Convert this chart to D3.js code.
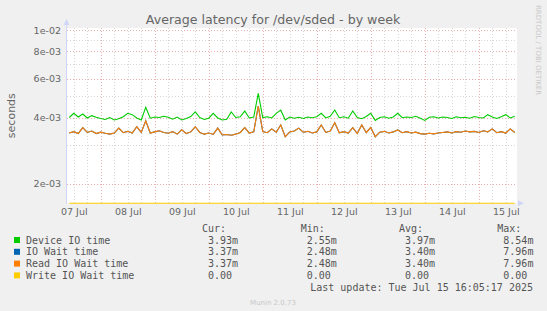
<!DOCTYPE html>
<html>
<head>
<meta charset="utf-8">
<script src="https://cdn.jsdelivr.net/npm/d3@7"></script>
<style>
  html, body { margin: 0; padding: 0; background: #f0f0f0; }
  svg { display: block; }
  text { font-family: "DejaVu Sans", sans-serif; fill: #666; }
  .mono { font-family: "DejaVu Sans Mono", monospace; font-size: 10px; fill: #555; }
</style>
</head>
<body>
<div id="chart"></div>
<script>
/** Data (ms, one point every 2 hours from 07 Jul 09:00) */
const deviceIO = [
  4.00, 4.18, 4.02, 4.15, 3.98, 4.08, 4.01, 3.96, 3.92, 4.00,
  3.90, 3.95, 4.03, 4.18, 4.12, 3.98, 3.90, 4.45, 3.97, 4.02,
  4.00, 4.05, 4.01, 3.93, 4.02, 3.90, 3.96, 4.04, 4.24, 4.00,
  3.92, 3.97, 4.18, 3.98, 3.90, 3.93, 4.24, 4.00, 4.03, 4.28,
  3.98, 4.02, 5.15, 4.00, 4.03, 3.98, 4.18, 4.32, 3.90, 4.02,
  3.97, 4.01, 3.96, 4.02, 3.99, 4.03, 4.18, 3.98, 4.05, 4.33,
  3.99, 4.03, 3.97, 4.28, 4.00, 3.95, 4.04, 4.18, 3.88, 4.00,
  4.03, 3.97, 4.02, 4.18, 3.99, 4.02, 4.00, 4.05, 3.97, 3.88,
  4.01, 4.03, 3.98, 4.02, 4.00, 3.96, 4.03, 3.99, 4.01, 3.97,
  4.04, 4.00, 3.98, 4.12, 4.02, 3.96, 4.03, 4.12, 3.98, 4.05,
  3.93
];
const readWait = [
  3.40, 3.45, 3.38, 3.60, 3.42, 3.47, 3.38, 3.43, 3.39, 3.36,
  3.40, 3.58, 3.41, 3.46, 3.40, 3.63, 3.42, 3.86, 3.40, 3.44,
  3.48, 3.42, 3.39, 3.45, 3.36, 3.52, 3.38, 3.44, 3.63, 3.42,
  3.36, 3.40, 3.35, 3.58, 3.33, 3.35, 3.32, 3.36, 3.42, 3.60,
  3.40, 3.44, 4.51, 3.45, 3.41, 3.55, 3.43, 3.70, 3.27, 3.44,
  3.47, 3.58, 3.43, 3.46, 3.40, 3.44, 3.70, 3.42, 3.47, 3.79,
  3.41, 3.45, 3.40, 3.60, 3.38, 3.70, 3.42, 3.60, 3.27, 3.43,
  3.46, 3.40, 3.44, 3.51, 3.41, 3.45, 3.40, 3.43, 3.38, 3.36,
  3.39, 3.37, 3.40, 3.42, 3.44, 3.40, 3.45, 3.43, 3.47, 3.44,
  3.46, 3.42, 3.48, 3.44, 3.55, 3.41, 3.45, 3.40, 3.55, 3.42,
  3.37
];
// IO Wait time is identical to Read IO Wait time, Write is always zero
const ioWait = readWait.slice();
const writeWait = readWait.map(() => 0);

const seriesNames = ["Device IO time", "IO Wait time", "Read IO Wait time", "Write IO Wait time"];
const seriesColors = ["#00cc00", "#0066b3", "#ff8000", "#ffcc00"];
const curValues = ["3.93m", "3.37m", "3.37m", "0.00"];
const minValues = ["2.55m", "2.48m", "2.48m", "0.00"];
const avgValues = ["3.97m", "3.40m", "3.40m", "0.00"];
const maxValues = ["8.54m", "7.96m", "7.96m", "0.00"];

const yTickValues = [1e-2, 8e-3, 6e-3, 4e-3, 2e-3];
const yTickLabels = ["1e-02", "8e-03", "6e-03", "4e-03", "2e-03"];
const yMinorValues = [9e-3, 7e-3, 5e-3, 3e-3];
const dayLabels = ["07 Jul", "08 Jul", "09 Jul", "10 Jul", "11 Jul", "12 Jul", "13 Jul", "14 Jul", "15 Jul"];

const startTime = new Date(Date.UTC(2025, 6, 7, 9));
const endTime = new Date(Date.UTC(2025, 6, 15, 17));

/** Graph configs */
const W = 547, H = 311;
const plot = { left: 67, right: 517, top: 28, bottom: 203.3 };

const svg = d3.select("#chart").append("svg")
  .attr("width", W).attr("height", H);

svg.append("rect").attr("width", W).attr("height", H).attr("fill", "#f0f0f0");
svg.append("rect")
  .attr("x", plot.left).attr("y", plot.top)
  .attr("width", plot.right - plot.left).attr("height", plot.bottom - plot.top)
  .attr("fill", "#fff");

const x = d3.scaleUtc().domain([startTime, endTime]).range([plot.left, plot.right]);
const y = d3.scaleLog().domain([1.629e-3, 1.021e-2]).range([plot.bottom, plot.top]);

const times = d3.utcHour.every(2).range(startTime, d3.utcHour.offset(endTime, 1));

/** Grid */
const minorCol = "#d6d6d6", majorCol = "#eab0b0";
const grid = svg.append("g").attr("shape-rendering", "crispEdges");
grid.selectAll(".vminor")
  .data(d3.utcHour.every(6).range(startTime, endTime).filter((d) => d.getUTCHours() !== 0))
  .join("line")
  .attr("x1", (d) => Math.round(x(d)) + 0.5).attr("x2", (d) => Math.round(x(d)) + 0.5)
  .attr("y1", plot.top).attr("y2", plot.bottom)
  .attr("stroke", minorCol).attr("stroke-dasharray", "1,2");
grid.selectAll(".hminor")
  .data(yMinorValues)
  .join("line")
  .attr("x1", plot.left).attr("x2", plot.right)
  .attr("y1", (d) => Math.round(y(d)) + 0.5).attr("y2", (d) => Math.round(y(d)) + 0.5)
  .attr("stroke", minorCol).attr("stroke-dasharray", "1,2");
grid.selectAll(".vmajor")
  .data(d3.utcDay.range(startTime, endTime))
  .join("line")
  .attr("x1", (d) => Math.round(x(d)) + 0.5).attr("x2", (d) => Math.round(x(d)) + 0.5)
  .attr("y1", plot.top).attr("y2", plot.bottom)
  .attr("stroke", majorCol).attr("stroke-dasharray", "1,2");
grid.selectAll(".hmajor")
  .data(yTickValues)
  .join("line")
  .attr("x1", plot.left).attr("x2", plot.right)
  .attr("y1", (d) => Math.round(y(d)) + 0.5).attr("y2", (d) => Math.round(y(d)) + 0.5)
  .attr("stroke", majorCol).attr("stroke-dasharray", "1,2");

/** Axes */
const yAxis = d3.axisLeft(y).tickValues(yTickValues)
  .tickFormat((d, i) => yTickLabels[i]).tickSize(0).tickPadding(6);
svg.append("g").attr("transform", `translate(${plot.left},0)`).call(yAxis)
  .call((g) => g.select(".domain").remove())
  .selectAll("text").style("font-size", "9.5px").attr("fill", "#666");

const noonTicks = d3.utcDay.range(d3.utcDay.floor(startTime), endTime)
  .map((d) => d3.utcHour.offset(d, 12));
const xAxis = d3.axisBottom(x).tickValues(noonTicks)
  .tickFormat((d, i) => dayLabels[i]).tickSize(0).tickPadding(5);
svg.append("g").attr("transform", `translate(0,${plot.bottom})`).call(xAxis)
  .call((g) => g.select(".domain").remove())
  .selectAll("text").style("font-size", "9.5px").attr("fill", "#666");

svg.append("text")
  .attr("transform", `translate(15,${(plot.top + plot.bottom) / 2}) rotate(-90)`)
  .attr("text-anchor", "middle").style("font-size", "11px")
  .text("seconds");

/** Lines */
const toSeconds = (v) => Math.max(v * 1e-3, y.domain()[0]);
const line = d3.line().x((d, i) => x(times[i])).y((d) => y(toSeconds(d)));
const seriesData = [deviceIO, ioWait, readWait, writeWait];
svg.append("g").selectAll("path")
  .data(seriesData)
  .join("path")
  .attr("d", line)
  .attr("fill", "none")
  .attr("stroke", (d, i) => seriesColors[i])
  .attr("stroke-width", 1.1);

/** Axis lines and arrows (Munin colour) */
const axisCol = "#cfd6f8";
svg.append("line").attr("x1", plot.left - 0.5).attr("x2", plot.left - 0.5)
  .attr("y1", plot.top - 4).attr("y2", plot.bottom + 0.5).attr("stroke", axisCol);
svg.append("path")
  .attr("d", `M${plot.left - 3.5},${plot.top - 3} L${plot.left - 0.5},${plot.top - 9} L${plot.left + 2.5},${plot.top - 3} Z`)
  .attr("fill", axisCol);
svg.append("path")
  .attr("d", `M${plot.right + 1},${plot.bottom - 3} L${plot.right + 7},${plot.bottom} L${plot.right + 1},${plot.bottom + 3} Z`)
  .attr("fill", axisCol);

/** Title and watermark */
svg.append("text").attr("x", 273).attr("y", 24)
  .attr("text-anchor", "middle").style("font-size", "12.6px")
  .text("Average latency for /dev/sded - by week");
svg.append("text")
  .attr("transform", "translate(536,5) rotate(90)")
  .style("font-size", "7px").style("fill", "#c8c8c8")
  .text("RRDTOOL / TOBI OETIKER");

/** Legend */
const legendTop = 240, rowStep = 11.8;
const colX = [208, 306.7, 405, 503.3];
const headers = ["Cur:", "Min:", "Avg:", "Max:"];
const leg = svg.append("g");
leg.selectAll(".hdr").data(headers).join("text")
  .attr("class", "mono").attr("x", (d, i) => colX[i] - 6).attr("y", legendTop - rowStep + 3.5)
  .text((d) => d);
const rows = leg.selectAll(".row").data(seriesNames).join("g")
  .attr("transform", (d, i) => `translate(0,${legendTop + i * rowStep})`);
rows.append("rect").attr("x", 14).attr("y", -3).attr("width", 6).attr("height", 6)
  .attr("fill", (d, i) => seriesColors[i]);
rows.append("text").attr("class", "mono").attr("x", 26).attr("y", 3.5).text((d) => d);
[curValues, minValues, avgValues, maxValues].forEach((vals, c) => {
  rows.append("text").attr("class", "mono").attr("x", colX[c]).attr("y", 3.5)
    .text((d, i) => vals[i]);
});
svg.append("text").attr("class", "mono").attr("x", 533).attr("y", 291)
  .attr("text-anchor", "end").text("Last update: Tue Jul 15 16:05:17 2025");
svg.append("text").attr("x", 273).attr("y", 304.5).attr("text-anchor", "middle")
  .style("font-size", "7px").style("fill", "#c8c8c8").text("Munin 2.0.73");
</script>
</body>
</html>
